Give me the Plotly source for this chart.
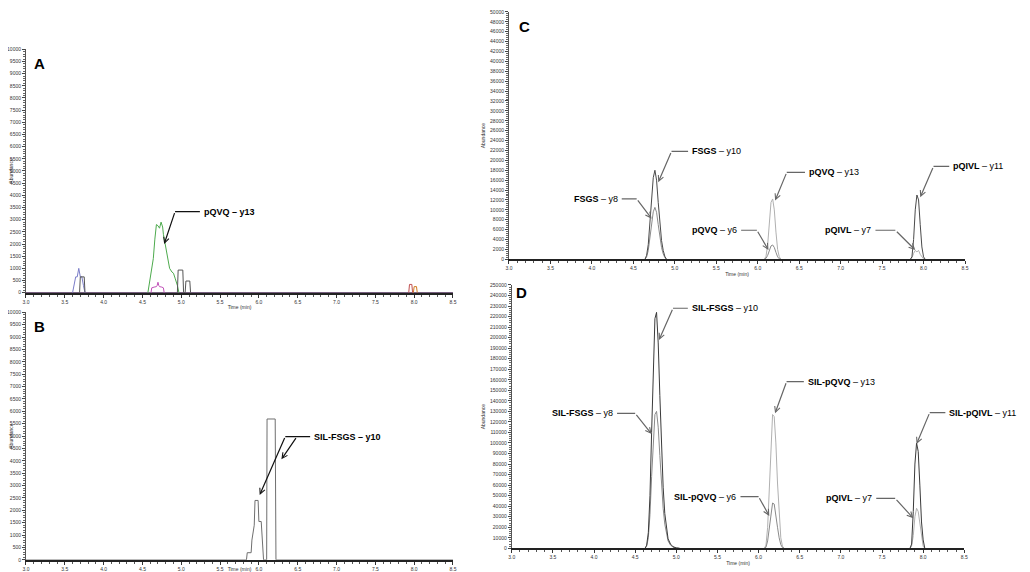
import plotly.graph_objects as go

# ---------------- Panel A data ----------------
a_blue_t = [3.60, 3.62, 3.64, 3.66, 3.68, 3.70, 3.72, 3.74, 3.76]
a_blue_v = [0, 300, 650, 650, 1000, 650, 650, 300, 0]
a_gray1_t = [3.69, 3.70, 3.75, 3.76]
a_gray1_v = [0, 650, 650, 0]
a_green_t = [4.57, 4.60, 4.64, 4.66, 4.68, 4.70, 4.72, 4.74, 4.76, 4.77, 4.79, 4.81, 4.83, 4.85, 4.88, 4.90, 4.92, 4.94, 4.95, 4.97]
a_green_v = [0, 600, 1400, 2200, 2800, 2750, 2650, 2900, 2700, 2400, 2000, 1700, 1300, 1000, 850, 800, 600, 450, 300, 0]
a_mag_t = [4.61, 4.62, 4.65, 4.68, 4.69, 4.70, 4.71, 4.72, 4.75, 4.77, 4.78]
a_mag_v = [0, 200, 230, 250, 300, 430, 300, 250, 230, 200, 0]
a_gray2_t = [4.95, 4.96, 5.02, 5.03, 5.05, 5.06, 5.11, 5.12]
a_gray2_v = [0, 930, 930, 0, 0, 480, 480, 0]
a_red_t = [7.93, 7.94, 7.97, 7.98]
a_red_v = [0, 340, 340, 0]
a_orange_t = [7.99, 8.00, 8.03, 8.04]
a_orange_v = [0, 250, 250, 0]

# ---------------- Panel B data ----------------
b_t = [3.0, 5.84, 5.85, 5.90, 5.91, 5.92, 5.93, 5.94, 5.95, 5.99, 6.00, 6.03, 6.06, 6.10, 6.105, 6.21, 6.22, 8.5]
b_v = [0, 0, 290, 290, 800, 1000, 1200, 1400, 2400, 2400, 1550, 1550, 0, 0, 5690, 5690, 0, 0]

# ---------------- Panel C data ----------------
c_fsgs_t = [4.64, 4.66, 4.68, 4.70, 4.72, 4.74, 4.76, 4.78, 4.80, 4.82, 4.84, 4.86, 4.88, 4.90]
c_fsgs_y10 = [0, 800, 3000, 7500, 12500, 16500, 18000, 16000, 11500, 7000, 3800, 1800, 600, 0]
c_fsgs_y8 = [0, 500, 1800, 4300, 7300, 9600, 10500, 9500, 7000, 4400, 2400, 1100, 350, 0]
c_pqvq_t = [6.08, 6.10, 6.12, 6.14, 6.16, 6.18, 6.20, 6.22, 6.24, 6.26, 6.28]
c_pqvq_y13 = [0, 600, 3000, 8000, 11500, 12200, 10000, 5500, 2000, 500, 0]
c_pqvq_y6 = [0, 200, 800, 1900, 2700, 2900, 2400, 1400, 500, 100, 0]
c_pqivl_t = [7.84, 7.86, 7.88, 7.90, 7.92, 7.94, 7.96, 7.98, 8.00, 8.02]
c_pqivl_y11 = [0, 500, 4000, 10000, 13000, 12000, 7000, 2500, 500, 0]
c_pqivl_y7 = [0, 300, 1200, 1800, 1500, 1800, 1000, 400, 100, 0]

# ---------------- Panel D data ----------------
d_fsgs_t = [4.62, 4.64, 4.66, 4.68, 4.70, 4.72, 4.74, 4.76, 4.78, 4.80, 4.82, 4.84, 4.86, 4.88, 4.90, 4.93, 4.96, 5.00, 5.04]
d_fsgs_y10 = [0, 3000, 15000, 50000, 110000, 175000, 218000, 224000, 195000, 145000, 95000, 58000, 33000, 18000, 9000, 4000, 1500, 400, 0]
d_fsgs_y8 = [0, 2000, 10000, 32000, 68000, 105000, 127000, 130000, 115000, 88000, 60000, 38000, 23000, 13000, 7000, 3000, 1200, 300, 0]
d_pqvq_t = [6.07, 6.09, 6.11, 6.13, 6.15, 6.17, 6.19, 6.21, 6.23, 6.25, 6.27, 6.29, 6.31]
d_pqvq_y13 = [0, 3000, 20000, 60000, 105000, 127000, 125000, 100000, 62000, 30000, 10000, 2000, 0]
d_pqvq_y6 = [0, 1000, 7000, 20000, 35000, 43000, 42000, 33000, 20000, 10000, 3500, 700, 0]
d_pqivl_t = [7.84, 7.86, 7.88, 7.90, 7.92, 7.94, 7.96, 7.98, 8.00, 8.02]
d_pqivl_y11 = [0, 4000, 35000, 80000, 100000, 92000, 60000, 25000, 8000, 0]
d_pqivl_y7 = [0, 2000, 12000, 30000, 38000, 35000, 24000, 10000, 2000, 0]

x_ticks = [3.0, 3.5, 4.0, 4.5, 5.0, 5.5, 6.0, 6.5, 7.0, 7.5, 8.0, 8.5]

fig = go.Figure()

def add(t, v, color, ax, width=1.0):
    fig.add_trace(go.Scatter(x=t, y=v, mode="lines", line=dict(color=color, width=width),
                             xaxis="x" + ax, yaxis="y" + ax, showlegend=False, hoverinfo="skip"))

add([3.0, 8.5], [0, 0], "#4a2a55", "", 1.5)
add(a_blue_t, a_blue_v, "#7a7cc8", "")
add(a_gray1_t, a_gray1_v, "#555555", "")
add(a_mag_t, a_mag_v, "#c050b8", "")
add(a_green_t, a_green_v, "#4daa4d", "")
add(a_gray2_t, a_gray2_v, "#555555", "")
add(a_red_t, a_red_v, "#c05050", "")
add(a_orange_t, a_orange_v, "#d07a20", "")

add(b_t, b_v, "#6f6f6f", "2")

add(c_fsgs_t, c_fsgs_y8, "#8a8a8a", "3")
add(c_fsgs_t, c_fsgs_y10, "#4a4a4a", "3")
add(c_pqvq_t, c_pqvq_y13, "#b0b0b0", "3")
add(c_pqvq_t, c_pqvq_y6, "#8a8a8a", "3")
add(c_pqivl_t, c_pqivl_y7, "#b0b0b0", "3")
add(c_pqivl_t, c_pqivl_y11, "#4a4a4a", "3")

add(d_fsgs_t, d_fsgs_y8, "#8a8a8a", "4")
add(d_fsgs_t, d_fsgs_y10, "#3a3a3a", "4")
add(d_pqvq_t, d_pqvq_y13, "#b0b0b0", "4")
add(d_pqvq_t, d_pqvq_y6, "#8a8a8a", "4")
add(d_pqivl_t, d_pqivl_y7, "#b0b0b0", "4")
add(d_pqivl_t, d_pqivl_y11, "#3a3a3a", "4")

tickfont = dict(family="Liberation Sans", size=5, color="#333333")

def xaxis(domain, anchor, standoff=2):
    return dict(domain=domain, anchor=anchor, range=[3.0, 8.5], tickvals=x_ticks,
                ticktext=[f"{v:.1f}" for v in x_ticks], ticks="outside", ticklen=3, tickcolor="#333",
                minor=dict(dtick=0.1, ticks="outside", ticklen=2, tickcolor="#555"),
                showline=True, linecolor="#222222", linewidth=2, showgrid=False, zeroline=False,
                tickfont=tickfont, automargin=False, ticklabeloverflow="allow",
                title=dict(text="Time (min)", font=dict(family="Liberation Sans", size=5, color="#333"), standoff=standoff))

def yaxis(domain, anchor, top, dtick, minor):
    return dict(domain=domain, anchor=anchor, range=[0, top], dtick=dtick, tickformat="d",
                ticks="outside", ticklen=3, tickcolor="#444",
                minor=dict(dtick=minor, ticks="outside", ticklen=2, tickcolor="#666"),
                showline=True, linecolor="#555555", linewidth=1, showgrid=False, zeroline=False,
                tickfont=tickfont, automargin=False, ticklabeloverflow="allow",
                title=dict(text="Abundance", font=dict(family="Liberation Sans", size=5, color="#333"), standoff=4))

# page body has an 8px margin: figure is 1022x564 and sits at (8, 8)
fig.update_layout(
    width=1022, height=564, margin=dict(l=0, r=0, t=0, b=0),
    paper_bgcolor="white", plot_bgcolor="white",
    xaxis=xaxis([0.0176, 0.4354], "y"),
    yaxis=yaxis([0.4952, 0.9268], "x", 10000, 500, 100),
    xaxis2=xaxis([0.0176, 0.4354], "y2", 0),
    yaxis2=yaxis([0.0215, 0.4605], "x2", 10000, 500, 100),
    xaxis3=xaxis([0.4902, 0.9364], "y3"),
    yaxis3=yaxis([0.5544, 0.9930], "x3", 50000, 2000, 400),
    xaxis4=xaxis([0.4929, 0.9357], "y4"),
    yaxis4=yaxis([0.0420, 0.5089], "x4", 250000, 10000, 2000),
)

for ax, letter, lx, ly in [("", "A", 0.014, 0.985), ("2", "B", 0.014, 0.985),
                           ("3", "C", 0.017, 0.985), ("4", "D", 0.004, 1.01)]:
    fig.add_annotation(text=f"<b>{letter}</b>", xref=f"x{ax} domain", yref=f"y{ax} domain",
                       x=lx, y=ly, xanchor="left", yanchor="top", showarrow=False,
                       font=dict(family="Liberation Sans", size=15, color="black"))

lab_font = dict(family="Liberation Sans", size=9, color="black")

labels = [
    ("", "<b>pQVQ – y13</b>", 5.24, 3330, "left", 4.92, [(4.92, 4.78, 2000)], "#111111"),
    ("2", "<b>SIL-FSGS – y10</b>", 6.66, 4980, "left", 6.34, [(6.34, 6.01, 2620), (6.49, 6.29, 4060)], "#111111"),
    ("3", "<b>FSGS</b> – y10", 5.16, 21800, "left", 4.96, [(4.96, 4.80, 15600)], "#666666"),
    ("3", "<b>FSGS</b> – y8", 4.36, 12230, "right", 4.54, [(4.54, 4.72, 8220)], "#666666"),
    ("3", "<b>pQVQ</b> – y13", 6.57, 17570, "left", 6.35, [(6.35, 6.21, 11890)], "#666666"),
    ("3", "<b>pQVQ</b> – y6", 5.80, 5880, "right", 5.99, [(5.99, 6.13, 1870)], "#666666"),
    ("3", "<b>pQIVL</b> – y11", 8.31, 18770, "left", 8.12, [(8.12, 7.96, 12560)], "#666666"),
    ("3", "<b>pQIVL</b> – y7", 7.42, 5880, "right", 7.66, [(7.66, 7.90, 1870)], "#666666"),
    ("4", "<b>SIL-FSGS</b> – y10", 5.14, 227900, "left", 4.96, [(4.96, 4.79, 197800)], "#666666"),
    ("4", "<b>SIL-FSGS</b> – y8", 4.28, 128200, "right", 4.50, [(4.50, 4.70, 108500)], "#666666"),
    ("4", "<b>SIL-pQVQ</b> – y13", 6.55, 158200, "left", 6.34, [(6.34, 6.20, 128200)], "#666666"),
    ("4", "<b>SIL-pQVQ</b> – y6", 5.78, 49000, "right", 6.00, [(6.00, 6.13, 30700)], "#666666"),
    ("4", "<b>SIL-pQIVL</b> – y11", 8.27, 128800, "left", 8.08, [(8.08, 7.92, 99000)], "#666666"),
    ("4", "<b>pQIVL</b> – y7", 7.43, 47500, "right", 7.66, [(7.66, 7.88, 28500)], "#666666"),
]

for ax, text, tx, ty, side, ex, arrows, col in labels:
    xr, yr = f"x{ax}", f"y{ax}"
    fig.add_annotation(text=text, x=tx, y=ty, xref=xr, yref=yr, xanchor=side, yanchor="middle",
                       showarrow=False, font=lab_font, xshift=2 if side == "left" else -2)
    fig.add_shape(type="line", xref=xr, yref=yr, x0=ex, x1=tx, y0=ty, y1=ty,
                  line=dict(color=col, width=1.2))
    for sx, px, py in arrows:
        fig.add_annotation(text="", x=px, y=py, xref=xr, yref=yr, ax=sx, ay=ty, axref=xr, ayref=yr,
                           showarrow=True, arrowhead=5, arrowsize=0.9, arrowwidth=1.2, arrowcolor=col)

fig.write_html("out.html")
